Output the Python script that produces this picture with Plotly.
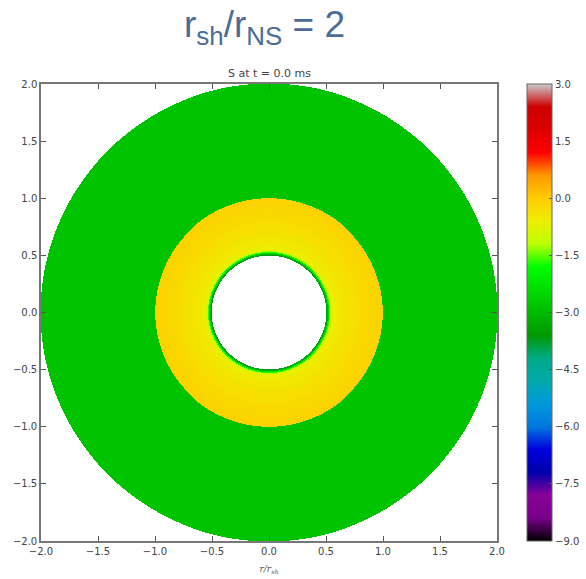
import numpy as np
import plotly.graph_objects as go

# Radial profile of the entropy S (shell edges in r/r_sh and the value in each shell)
shell_edges = [0.500, 0.508, 0.516, 0.524, 0.532, 0.540, 0.550, 0.575, 0.600, 0.650,
               0.700, 0.750, 0.800, 0.850, 0.900, 0.950, 1.000, 2.000]
shell_values = [-3.7, -3.1, -2.4, -1.7, -1.2, -0.85, -0.65, -0.55, -0.48, -0.42,
                -0.36, -0.30, -0.25, -0.20, -0.16, -0.12, -2.85]

cbar_ticks = [-9.0, -7.5, -6.0, -4.5, -3.0, -1.5, 0.0, 1.5, 3.0]
axis_ticks = [-2.0, -1.5, -1.0, -0.5, 0.0, 0.5, 1.0, 1.5, 2.0]

# nipy_spectral-like colour scale
nipy = [
    (0.00, (0.0, 0.0, 0.0)), (0.05, (0.4667, 0.0, 0.5333)), (0.10, (0.5333, 0.0, 0.6)),
    (0.15, (0.0, 0.0, 0.6667)), (0.20, (0.0, 0.0, 0.8667)), (0.25, (0.0, 0.4667, 0.8667)),
    (0.30, (0.0, 0.6, 0.8667)), (0.35, (0.0, 0.6667, 0.6667)), (0.40, (0.0, 0.6667, 0.5333)),
    (0.45, (0.0, 0.6, 0.0)), (0.50, (0.0, 0.7333, 0.0)), (0.55, (0.0, 0.8667, 0.0)),
    (0.60, (0.0, 1.0, 0.0)), (0.65, (0.7333, 1.0, 0.0)), (0.70, (0.9333, 0.9333, 0.0)),
    (0.75, (1.0, 0.8, 0.0)), (0.80, (1.0, 0.6, 0.0)), (0.85, (1.0, 0.0, 0.0)),
    (0.90, (0.8667, 0.0, 0.0)), (0.95, (0.8, 0.0, 0.0)), (1.00, (0.8, 0.8, 0.8)),
]
colorscale = [[p, "rgb(%d,%d,%d)" % tuple(int(round(c * 255)) for c in rgb)] for p, rgb in nipy]

# Cartesian grid; each cell takes the value of the shell it falls in
n = 460
xs = np.linspace(-2, 2, n)
ys = np.linspace(-2, 2, n)
X, Y = np.meshgrid(xs, ys)
R = np.hypot(X, Y)
idx = np.digitize(R, shell_edges) - 1
vals = np.array(shell_values)
Z = np.where((idx >= 0) & (idx < len(shell_values)), vals[np.clip(idx, 0, len(vals) - 1)], np.nan)

fig = go.Figure(go.Heatmap(
    x=xs, y=ys, z=Z, zmin=-9, zmax=3, colorscale=colorscale, zsmooth=False,
    hoverongaps=False,
    colorbar=dict(
        x=1.066, xanchor="left", xpad=0, ypad=0, y=0.5, yanchor="middle",
        len=1.0, lenmode="fraction",
        thickness=25, outlinewidth=1, outlinecolor="#666",
        tickvals=cbar_ticks, ticktext=[f"{v:.1f}".replace("-", "\u2212") for v in cbar_ticks],
        ticks="inside", ticklen=3, tickcolor="#555",
        tickfont=dict(family="DejaVu Sans", size=10, color="#444"),
    ),
))

axis_common = dict(
    range=[-2, 2], tickvals=axis_ticks,
    ticktext=[f"{v:.1f}".replace("-", "\u2212") for v in axis_ticks],
    ticks="inside", ticklen=5, tickcolor="#555", showline=True, linecolor="#777",
    linewidth=1.5, mirror="ticks", showgrid=False, zeroline=False,
    tickfont=dict(family="DejaVu Sans", size=10, color="#444"),
)
fig.update_xaxes(**axis_common,
                 title=dict(text="<i>r/r<sub>sh</sub></i>", font=dict(family="DejaVu Serif", size=9, color="#555"),
                            standoff=10))
fig.update_yaxes(**axis_common)

fig.add_annotation(text="r<sub>sh</sub>/r<sub>NS</sub> = 2", xref="paper", yref="paper",
                   x=0.491, y=1.0, yshift=57, xanchor="center", yanchor="middle", showarrow=False,
                   font=dict(family="Liberation Sans", size=37, color="#4a6c96"))
fig.add_annotation(text="S at t = 0.0 ms", xref="paper", yref="paper",
                   x=0.5, y=1.0, yshift=2, xanchor="center", yanchor="bottom", showarrow=False,
                   font=dict(family="DejaVu Sans", size=11, color="#444"))

fig.update_layout(
    width=586, height=579, margin=dict(l=41, r=89, t=84, b=38, autoexpand=False),
    paper_bgcolor="white", plot_bgcolor="white", showlegend=False,
)
fig.write_html("out.html")
